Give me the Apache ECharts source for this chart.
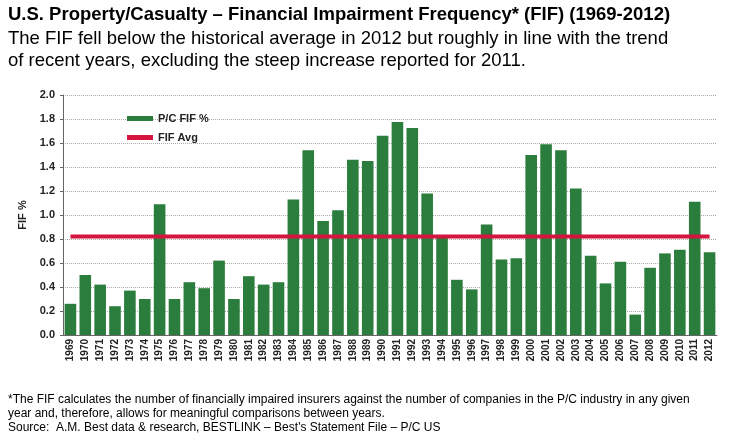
<!DOCTYPE html>
<html><head><meta charset="utf-8">
<script src="https://cdn.jsdelivr.net/npm/echarts@6/dist/echarts.min.js"></script>
<style>body{margin:0}#c{width:740px;height:443px}</style></head>
<body><div id="c"></div>
<script>
var years = [];
for (var y = 1969; y <= 2012; y++) years.push(String(y));
var fif = [0.26,0.50,0.42,0.24,0.37,0.30,1.09,0.30,0.44,0.39,0.62,0.30,0.49,0.42,0.44,
  1.13,1.54,0.95,1.04,1.46,1.45,1.66,1.775,1.725,1.18,0.81,0.46,0.38,0.92,0.63,0.64,
  1.50,1.59,1.54,1.22,0.66,0.43,0.61,0.17,0.56,0.68,0.71,1.11,0.69];
var avgValue = 0.82;
var avg = years.map(function(){ return avgValue; });

var chart = echarts.init(document.getElementById('c'));
chart.setOption({
  animation: false,
  textStyle: {fontFamily: 'Liberation Sans, Arial, sans-serif'},
  graphic: [
    {type: 'text', left: 8, top: 5, style: {text: 'U.S. Property/Casualty – Financial Impairment Frequency* (FIF) (1969-2012)', font: 'bold 18.5px Liberation Sans', fill: '#000'}},
    {type: 'text', left: 8, top: 28, style: {text: 'The FIF fell below the historical average in 2012 but roughly in line with the trend\nof recent years, excluding the steep increase reported for 2011.', font: '18.5px Liberation Sans', fill: '#000', lineHeight: 22}},
    {type: 'text', left: 8, top: 393, style: {text: '*The FIF calculates the number of financially impaired insurers against the number of companies in the P/C industry in any given\nyear and, therefore, allows for meaningful comparisons between years.\nSource:  A.M. Best data & research, BESTLINK – Best\'s Statement File – P/C US', font: '12px Liberation Sans', fill: '#000', lineHeight: 14}}
  ],
  legend: {
    orient: 'vertical', left: 122, top: 108, itemGap: 8, itemWidth: 26, itemHeight: 5,
    textStyle: {fontSize: 11, fontWeight: 'bold', color: '#222'},
    data: [{name: 'P/C FIF %', icon: 'rect'}, {name: 'FIF Avg', icon: 'rect'}]
  },
  grid: {left: 63, right: 23, top: 95, bottom: 108},
  xAxis: {
    type: 'category', data: years,
    axisLine: {lineStyle: {color: '#666'}},
    axisTick: {show: false},
    axisLabel: {rotate: 90, interval: 0, fontSize: 10, fontWeight: 'bold', color: '#222', margin: 4}
  },
  yAxis: {
    type: 'value', min: 0, max: 2, interval: 0.2,
    name: 'FIF %', nameLocation: 'middle', nameGap: 34, nameRotate: 90,
    nameTextStyle: {fontSize: 11, fontWeight: 'bold', color: '#222'},
    axisLine: {show: true, lineStyle: {color: '#666'}},
    axisTick: {show: true, length: 3},
    axisLabel: {fontSize: 11, fontWeight: 'bold', color: '#222', formatter: function(v){ return v.toFixed(1); }},
    splitLine: {lineStyle: {type: 'dotted', color: '#aaa'}}
  },
  series: [
    {name: 'P/C FIF %', type: 'bar', data: fif, barCategoryGap: '22%',
     itemStyle: {color: '#2a7d3c'}},
    {name: 'FIF Avg', type: 'line', data: avg, symbol: 'none',
     lineStyle: {color: '#d4153f', width: 4}, itemStyle: {color: '#d4153f'}}
  ]
});
</script></body></html>
